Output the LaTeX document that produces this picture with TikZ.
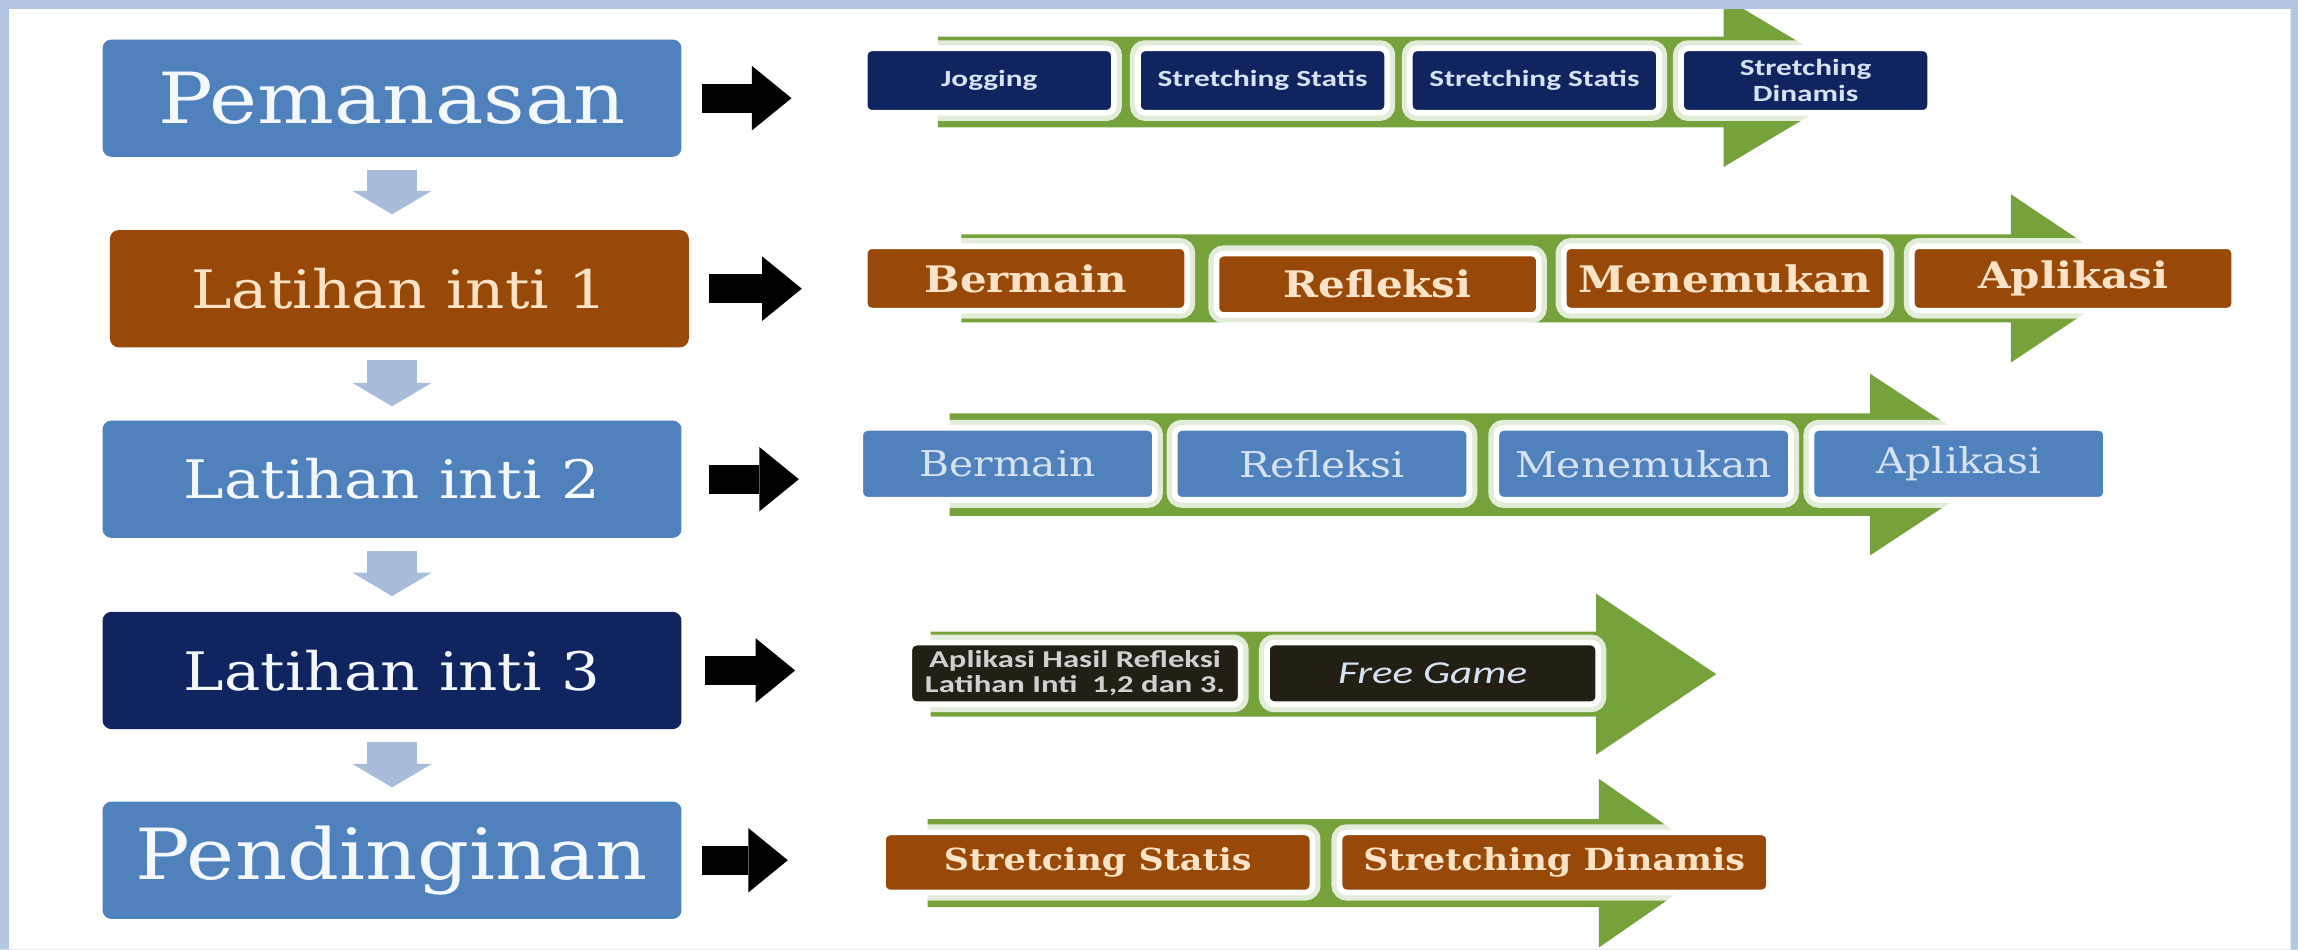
\documentclass[tikz,border=0pt]{standalone}
\usepackage{fontspec}
\usepackage{tikz}
\usetikzlibrary{arrows.meta}
\newfontfamily\boxserif[FakeStretch=1.15]{DejaVu Serif}
\newfontfamily\boxsans[FakeStretch=1.35]{Carlito}
\definecolor{FrameBlue}{HTML}{B4C7E7}
\definecolor{StageBlue}{HTML}{4F81BD}
\definecolor{StageBrown}{HTML}{984807}
\definecolor{StageNavy}{HTML}{10255F}
\definecolor{StageDark}{HTML}{241F14}
\definecolor{FlowGreen}{HTML}{76A23C}
\definecolor{StepArrow}{HTML}{A7BDDB}
\definecolor{PaleText}{HTML}{F4F7FB}
\definecolor{CreamText}{HTML}{FCE3C8}
\definecolor{IceText}{HTML}{D5E2F2}
\definecolor{GreyText}{HTML}{D0D0D0}

\tikzset{
  stagebox/.style={rounded corners=0.06cm, minimum width=3.95cm, minimum height=0.8cm, inner sep=0pt, align=center},
  stagebig/.style={font=\boxserif\fontsize{13.7}{15}\selectfont},
  stagesmall/.style={font=\boxserif\fontsize{10.3}{12}\selectfont},
  taskbox/.style={rounded corners=0.05cm, draw=white, line width=1.1pt, inner sep=0pt, align=center,
    preaction={draw=white, opacity=0.8, line width=0.11cm}},
  warmbox/.style={fill=StageNavy, text=IceText, font=\boxsans\bfseries\fontsize{4.5}{5}\selectfont, minimum width=1.70cm, minimum height=0.44cm},
  coreonebox/.style={fill=StageBrown, text=CreamText, font=\boxserif\bfseries\fontsize{7.1}{8}\selectfont, minimum width=2.2cm, minimum height=0.44cm},
  coretwobox/.style={fill=StageBlue, text=IceText, font=\boxserif\fontsize{6.9}{8}\selectfont, minimum width=2.01cm, minimum height=0.49cm},
  corethreebox/.style={fill=StageDark, minimum width=2.26cm, minimum height=0.42cm},
  coolbox/.style={fill=StageBrown, text=CreamText, font=\boxserif\bfseries\fontsize{5.9}{7}\selectfont, minimum width=2.93cm, minimum height=0.41cm},
  nextarrow/.style={draw=StepArrow, line width=0.34cm, -{Triangle[length=0.16cm, width=0.54cm, line width=0pt]}},
  goarrow/.style={draw=black, line width=0.2cm, -{Triangle[length=0.27cm, width=0.44cm, line width=0pt]}}
}

\begin{document}
\begin{tikzpicture}
\useasboundingbox (0,0) rectangle (15.68,6.48);
\fill[white] (0,0) rectangle (15.68,6.48);

% green process arrows behind the task boxes
\foreach \xs/\xb/\xt/\yc/\hs/\hh in {6.40/11.76/12.73/5.92/0.31/0.58, 6.56/13.72/14.58/4.58/0.30/0.575,
    6.48/12.76/13.70/3.31/0.35/0.62, 6.35/10.89/11.71/1.88/0.29/0.55, 6.33/10.91/11.74/0.59/0.30/0.575}
  \fill[FlowGreen] (\xs,\yc-\hs) -- (\xb,\yc-\hs) -- (\xb,\yc-\hh) -- (\xt,\yc)
    -- (\xb,\yc+\hh) -- (\xb,\yc+\hs) -- (\xs,\yc+\hs) -- cycle;

% stages
\node[stagebox, stagebig, fill=StageBlue, text=PaleText] (pem) at (2.675,5.81) {Pemanasan};
\node[stagebox, stagesmall, fill=StageBrown, text=CreamText] (lat1) at (2.725,4.51) {Latihan inti 1};
\node[stagebox, stagesmall, fill=StageBlue, text=PaleText] (lat2) at (2.675,3.21) {Latihan inti 2};
\node[stagebox, stagesmall, fill=StageNavy, text=PaleText] (lat3) at (2.675,1.905) {Latihan inti 3};
\node[stagebox, stagebig, fill=StageBlue, text=PaleText] (pend) at (2.675,0.61) {Pendinginan};

% warming up
\node[taskbox, warmbox] (jog) at (6.75,5.93) {Jogging};
\node[taskbox, warmbox] (stat1) at (8.615,5.93) {Stretching Statis};
\node[taskbox, warmbox] (stat2) at (10.47,5.93) {Stretching Statis};
\node[taskbox, warmbox] (dinam) at (12.32,5.93) {Stretching\\Dinamis};

% core 1
\node[taskbox, coreonebox] (berA) at (7.00,4.58) {Bermain};
\node[taskbox, coreonebox, minimum height=0.42cm] (refA) at (9.40,4.54) {Refleksi};
\node[taskbox, coreonebox] (menA) at (11.77,4.58) {Menemukan};
\node[taskbox, coreonebox] (aplA) at (14.145,4.58) {Aplikasi};

% core 2
\node[taskbox, coretwobox] (berB) at (6.875,3.315) {Bermain};
\node[taskbox, coretwobox] (refB) at (9.02,3.315) {Refleksi};
\node[taskbox, coretwobox] (menB) at (11.215,3.315) {Menemukan};
\node[taskbox, coretwobox] (aplB) at (13.365,3.315) {Aplikasi};

% core 3
\node[taskbox, corethreebox, text=GreyText, font=\boxsans\bfseries\fontsize{4.7}{4.9}\selectfont] (hasil) at (7.335,1.885) {Aplikasi Hasil Refleksi\\Latihan Inti\ \ 1,2 dan 3.};
\node[taskbox, corethreebox, text=IceText, font=\boxsans\itshape\fontsize{6.2}{7}\selectfont] (free) at (9.775,1.885) {Free Game};

% cooling down
\node[taskbox, coolbox] (statis) at (7.49,0.595) {Stretcing Statis};
\node[taskbox, coolbox] (dinamis) at (10.605,0.595) {Stretching Dinamis};

% stage to stage
\draw[nextarrow, shorten <=0.08cm, shorten >=0.10cm] (pem.south) -- (pem.south |- lat1.north);
\draw[nextarrow, shorten <=0.08cm, shorten >=0.09cm] (pem.south |- lat1.south) -- (pem.south |- lat2.north);
\draw[nextarrow, shorten <=0.08cm, shorten >=0.10cm] (lat2.south) -- (lat3.north);
\draw[nextarrow, shorten <=0.08cm, shorten >=0.09cm] (lat3.south) -- (pend.north);

% stage to its tasks
\draw[goarrow, shorten <=0.13cm, shorten >=0.48cm] (pem.east) -- (pem.east -| jog.west);
\draw[goarrow, shorten <=0.13cm, shorten >=0.41cm] (lat1.east) -- (lat1.east -| berA.west);
\draw[goarrow, shorten <=0.18cm, shorten >=0.40cm] (lat2.east) -- (lat2.east -| berB.west);
\draw[goarrow, shorten <=0.15cm, shorten >=0.76cm] (lat3.east) -- (lat3.east -| hasil.west);
\draw[goarrow, shorten <=0.13cm, shorten >=0.63cm] (pend.east) -- (pend.east -| statis.west);

% frame
\fill[FrameBlue, even odd rule] (0,0) rectangle (15.68,6.48) (0.06,-0.1) rectangle (15.63,6.42);
\end{tikzpicture}
\end{document}
